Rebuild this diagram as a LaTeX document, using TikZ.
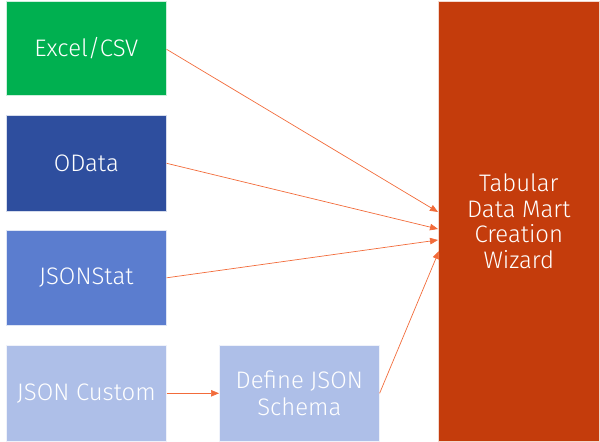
\documentclass[tikz,border=0pt]{standalone}
\usepackage{fontspec}
\setmainfont{Fira Sans}[UprightFont=* Light]
\usetikzlibrary{arrows.meta}
\definecolor{cgreen}{RGB}{0,176,80}
\definecolor{cdblue}{RGB}{46,78,158}
\definecolor{cmblue}{RGB}{91,125,207}
\definecolor{clblue}{RGB}{174,191,232}
\definecolor{cwiz}{RGB}{196,60,12}
\definecolor{carrow}{RGB}{242,107,58}
\tikzset{
  box/.style={draw=white!80!#1, line width=0.6bp, fill=#1, text=white, font=\fontsize{24}{27}\selectfont, align=center, inner sep=0pt, anchor=north west},
  link/.style={draw=carrow, line width=0.7bp, -{Triangle[length=8bp,width=6.5bp]}}
}
\begin{document}
\begin{tikzpicture}[x=1bp,y=-1bp]
\useasboundingbox (0,0) rectangle (600,442);
\node[box=cgreen, minimum width=160bp, minimum height=94bp] (excel) at (6,1) {Excel/CSV};
\node[box=cdblue, minimum width=160bp, minimum height=96bp] (odata) at (6,115) {OData};
\node[box=cmblue, minimum width=160bp, minimum height=95bp] (jsonstat) at (6,230) {JSONStat};
\node[box=clblue, minimum width=160bp, minimum height=96bp] (custom) at (6,345) {JSON Custom};
\node[box=clblue, minimum width=160bp, minimum height=96bp] (schema) at (219,345) {Define JSON\\Schema};
\node[box=cwiz, minimum width=161bp, minimum height=440bp, font=\fontsize{24}{25.7}\selectfont] (wiz) at (438,1) {Tabular\\Data Mart\\Creation\\Wizard};
\coordinate (w1) at (438,212);
\coordinate (w2) at (438,229);
\coordinate (w3) at (438,240);
\coordinate (w4) at (439,251);
\draw[link] (excel.east) ++(0,1) -- (w1);
\draw[link] (odata.east) -- (w2);
\draw[link] (jsonstat.east) -- (w3);
\draw[link] (schema.east) -- (w4);
\draw[link] (custom.east) -- (schema.west);
\end{tikzpicture}
\end{document}
